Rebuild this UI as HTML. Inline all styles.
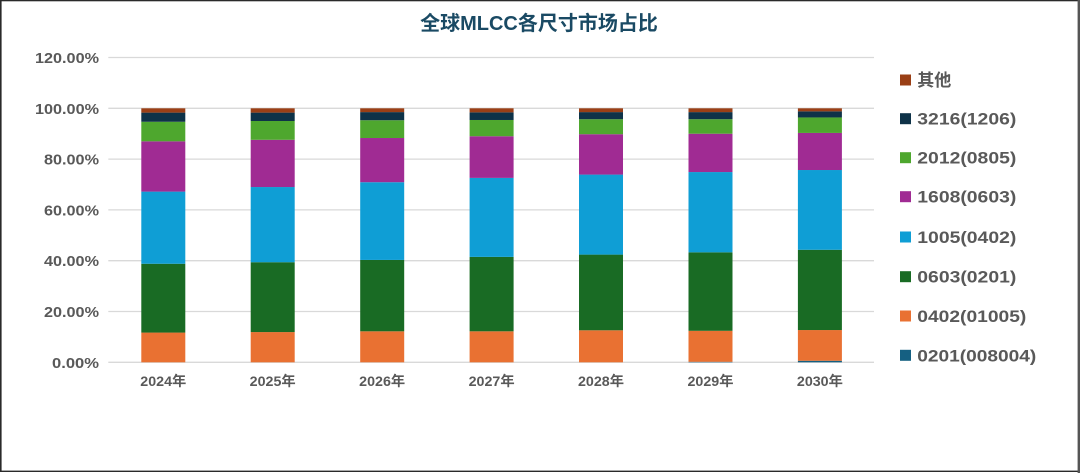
<!DOCTYPE html>
<html>
<head>
<meta charset="utf-8">
<style>
  html,body{margin:0;padding:0;background:#fff;}
  body{width:1080px;height:473px;overflow:hidden;}
  svg{display:block;}
  text{font-family:"Liberation Sans","Noto Sans CJK SC",sans-serif;font-weight:bold;}
</style>
</head>
<body>
<svg width="1080" height="473" viewBox="0 0 1080 473" xmlns="http://www.w3.org/2000/svg">
  <rect x="0" y="0" width="1080" height="473" fill="#fff"/>
  <!-- frame -->
  <rect x="0" y="0" width="1.6" height="472" fill="#2a2a2a"/>
  <rect x="0" y="0" width="1078" height="1.3" fill="#2a2a2a"/>
  <rect x="0" y="470.6" width="1078" height="1.4" fill="#2a2a2a"/>
  <rect x="1077.6" y="0" width="2.4" height="473" fill="#555"/>

  <!-- title -->
  <text x="539" y="30" text-anchor="middle" font-size="20" fill="#1A4A64">全球MLCC各尺寸市场占比</text>

  <!-- gridlines -->
  <g stroke="#D9D9D9" stroke-width="1.3">
    <line x1="108.3" y1="57.5" x2="874" y2="57.5"/>
    <line x1="108.3" y1="108.3" x2="874" y2="108.3"/>
    <line x1="108.3" y1="159.1" x2="874" y2="159.1"/>
    <line x1="108.3" y1="209.9" x2="874" y2="209.9"/>
    <line x1="108.3" y1="260.7" x2="874" y2="260.7"/>
    <line x1="108.3" y1="311.5" x2="874" y2="311.5"/>
    <line x1="108.3" y1="362.3" x2="874" y2="362.3"/>
  </g>

  <!-- y labels -->
  <g font-size="15" fill="#595959" text-anchor="end">
    <text x="99" y="63" textLength="64" lengthAdjust="spacingAndGlyphs">120.00%</text>
    <text x="99" y="113.8" textLength="64" lengthAdjust="spacingAndGlyphs">100.00%</text>
    <text x="99" y="164.6" textLength="55" lengthAdjust="spacingAndGlyphs">80.00%</text>
    <text x="99" y="215.4" textLength="55" lengthAdjust="spacingAndGlyphs">60.00%</text>
    <text x="99" y="266.2" textLength="55" lengthAdjust="spacingAndGlyphs">40.00%</text>
    <text x="99" y="317" textLength="55" lengthAdjust="spacingAndGlyphs">20.00%</text>
    <text x="99" y="367.8" textLength="47" lengthAdjust="spacingAndGlyphs">0.00%</text>
  </g>

  <!-- bars -->
  <g transform="translate(141.3,362.3) scale(1,-2.54)">
    <rect x="0" y="0" width="44" height="11.7" fill="#E97132"/>
    <rect x="0" y="11.7" width="44" height="27.1" fill="#196B24"/>
    <rect x="0" y="38.8" width="44" height="28.4" fill="#0F9ED5"/>
    <rect x="0" y="67.2" width="44" height="19.8" fill="#A02B93"/>
    <rect x="0" y="87.0" width="44" height="7.7" fill="#4EA72E"/>
    <rect x="0" y="94.7" width="44" height="3.6" fill="#0E3248"/>
    <rect x="0" y="98.3" width="44" height="1.7" fill="#9A3F16"/>
  </g>
  <g transform="translate(250.7,362.3) scale(1,-2.54)">
    <rect x="0" y="0" width="44" height="11.9" fill="#E97132"/>
    <rect x="0" y="11.9" width="44" height="27.5" fill="#196B24"/>
    <rect x="0" y="39.4" width="44" height="29.6" fill="#0F9ED5"/>
    <rect x="0" y="69.0" width="44" height="18.6" fill="#A02B93"/>
    <rect x="0" y="87.6" width="44" height="7.4" fill="#4EA72E"/>
    <rect x="0" y="95.0" width="44" height="3.3" fill="#0E3248"/>
    <rect x="0" y="98.3" width="44" height="1.7" fill="#9A3F16"/>
  </g>
  <g transform="translate(360.2,362.3) scale(1,-2.54)">
    <rect x="0" y="0" width="44" height="12.2" fill="#E97132"/>
    <rect x="0" y="12.2" width="44" height="28.1" fill="#196B24"/>
    <rect x="0" y="40.3" width="44" height="30.6" fill="#0F9ED5"/>
    <rect x="0" y="70.9" width="44" height="17.4" fill="#A02B93"/>
    <rect x="0" y="88.3" width="44" height="7.0" fill="#4EA72E"/>
    <rect x="0" y="95.3" width="44" height="3.2" fill="#0E3248"/>
    <rect x="0" y="98.5" width="44" height="1.5" fill="#9A3F16"/>
  </g>
  <g transform="translate(469.6,362.3) scale(1,-2.54)">
    <rect x="0" y="0" width="44" height="12.2" fill="#E97132"/>
    <rect x="0" y="12.2" width="44" height="29.3" fill="#196B24"/>
    <rect x="0" y="41.5" width="44" height="31.1" fill="#0F9ED5"/>
    <rect x="0" y="72.6" width="44" height="16.4" fill="#A02B93"/>
    <rect x="0" y="89.0" width="44" height="6.4" fill="#4EA72E"/>
    <rect x="0" y="95.4" width="44" height="3.0" fill="#0E3248"/>
    <rect x="0" y="98.4" width="44" height="1.6" fill="#9A3F16"/>
  </g>
  <g transform="translate(579.0,362.3) scale(1,-2.54)">
    <rect x="0" y="0" width="44" height="12.6" fill="#E97132"/>
    <rect x="0" y="12.6" width="44" height="29.8" fill="#196B24"/>
    <rect x="0" y="42.4" width="44" height="31.5" fill="#0F9ED5"/>
    <rect x="0" y="73.9" width="44" height="15.9" fill="#A02B93"/>
    <rect x="0" y="89.8" width="44" height="5.9" fill="#4EA72E"/>
    <rect x="0" y="95.7" width="44" height="2.8" fill="#0E3248"/>
    <rect x="0" y="98.5" width="44" height="1.5" fill="#9A3F16"/>
  </g>
  <g transform="translate(688.5,362.3) scale(1,-2.54)">
    <rect x="0" y="0" width="44" height="0.2" fill="#156082"/>
    <rect x="0" y="0.2" width="44" height="12.2" fill="#E97132"/>
    <rect x="0" y="12.4" width="44" height="30.9" fill="#196B24"/>
    <rect x="0" y="43.3" width="44" height="31.6" fill="#0F9ED5"/>
    <rect x="0" y="74.9" width="44" height="15.1" fill="#A02B93"/>
    <rect x="0" y="90.0" width="44" height="5.7" fill="#4EA72E"/>
    <rect x="0" y="95.7" width="44" height="2.8" fill="#0E3248"/>
    <rect x="0" y="98.5" width="44" height="1.5" fill="#9A3F16"/>
  </g>
  <g transform="translate(797.9,362.3) scale(1,-2.54)">
    <rect x="0" y="0" width="44" height="0.6" fill="#156082"/>
    <rect x="0" y="0.6" width="44" height="12.1" fill="#E97132"/>
    <rect x="0" y="12.7" width="44" height="31.6" fill="#196B24"/>
    <rect x="0" y="44.3" width="44" height="31.4" fill="#0F9ED5"/>
    <rect x="0" y="75.7" width="44" height="14.6" fill="#A02B93"/>
    <rect x="0" y="90.3" width="44" height="6.1" fill="#4EA72E"/>
    <rect x="0" y="96.4" width="44" height="2.4" fill="#0E3248"/>
    <rect x="0" y="98.8" width="44" height="1.2" fill="#9A3F16"/>
  </g>

  <!-- x labels -->
  <g font-size="14" fill="#595959" text-anchor="middle">
    <text x="163.3" y="386" textLength="46" lengthAdjust="spacingAndGlyphs">2024年</text>
    <text x="272.7" y="386" textLength="46" lengthAdjust="spacingAndGlyphs">2025年</text>
    <text x="382.2" y="386" textLength="46" lengthAdjust="spacingAndGlyphs">2026年</text>
    <text x="491.6" y="386" textLength="46" lengthAdjust="spacingAndGlyphs">2027年</text>
    <text x="601.0" y="386" textLength="46" lengthAdjust="spacingAndGlyphs">2028年</text>
    <text x="710.5" y="386" textLength="46" lengthAdjust="spacingAndGlyphs">2029年</text>
    <text x="819.9" y="386" textLength="46" lengthAdjust="spacingAndGlyphs">2030年</text>
  </g>

  <!-- legend -->
  <g>
    <rect x="900" y="74.5" width="11" height="11" fill="#9A3F16"/>
    <rect x="900" y="113.2" width="11" height="11" fill="#0E3248"/>
    <rect x="900" y="152.2" width="11" height="11" fill="#4EA72E"/>
    <rect x="900" y="191.2" width="11" height="11" fill="#A02B93"/>
    <rect x="900" y="231.5" width="11" height="11" fill="#0F9ED5"/>
    <rect x="900" y="271.2" width="11" height="11" fill="#196B24"/>
    <rect x="900" y="310.5" width="11" height="11" fill="#E97132"/>
    <rect x="900" y="349.8" width="11" height="11" fill="#156082"/>
  </g>
  <g font-size="17" fill="#595959">
    <text x="917.3" y="86">其他</text>
    <text x="917.3" y="124.7" textLength="99" lengthAdjust="spacingAndGlyphs">3216(1206)</text>
    <text x="917.3" y="163.7" textLength="99" lengthAdjust="spacingAndGlyphs">2012(0805)</text>
    <text x="917.3" y="202.7" textLength="99" lengthAdjust="spacingAndGlyphs">1608(0603)</text>
    <text x="917.3" y="243" textLength="99" lengthAdjust="spacingAndGlyphs">1005(0402)</text>
    <text x="917.3" y="282.7" textLength="99" lengthAdjust="spacingAndGlyphs">0603(0201)</text>
    <text x="917.3" y="322" textLength="109" lengthAdjust="spacingAndGlyphs">0402(01005)</text>
    <text x="917.3" y="361.3" textLength="119" lengthAdjust="spacingAndGlyphs">0201(008004)</text>
  </g>
</svg>
</body>
</html>
